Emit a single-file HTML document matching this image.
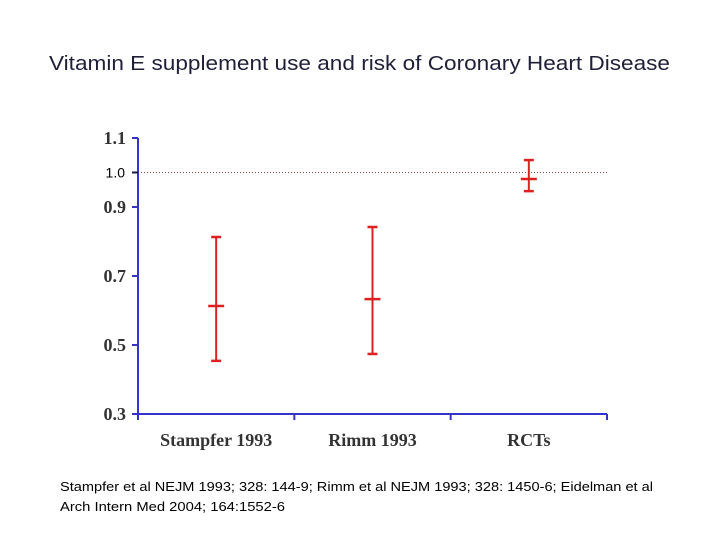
<!DOCTYPE html>
<html><head><meta charset="utf-8"><style>
body{margin:0;background:#fff;}
svg{display:block;}
</style></head><body>
<svg width="720" height="540" xmlns="http://www.w3.org/2000/svg">
<text x="49" y="70" textLength="621" lengthAdjust="spacingAndGlyphs" font-family="Liberation Sans, sans-serif" font-size="20" fill="#1f1f3a">Vitamin E supplement use and risk of Coronary Heart Disease</text>
<g id="plot"></g>
<text x="60" y="491" textLength="593" lengthAdjust="spacingAndGlyphs" font-family="Liberation Sans, sans-serif" font-size="13" fill="#000">Stampfer et al NEJM 1993; 328: 144-9;  Rimm et al NEJM 1993; 328: 1450-6;  Eidelman et al</text>
<text x="60" y="511" textLength="225" lengthAdjust="spacingAndGlyphs" font-family="Liberation Sans, sans-serif" font-size="13" fill="#000">Arch Intern Med 2004; 164:1552-6</text>
</svg>
<script>
const categories=["Stampfer 1993","Rimm 1993","RCTs"];
const estimates=[0.613,0.633,0.981];
const lowerCI=[0.454,0.474,0.946];
const upperCI=[0.813,0.842,1.036];
const yTicks=[0.3,0.5,0.7,0.9,1.1];
const yTickLabels=["0.3","0.5","0.7","0.9","1.1"];
const refValue=1.0;

const NS="http://www.w3.org/2000/svg";
const g=document.getElementById('plot');
const x0=138,x1=607,yMin=0.3,yMax=1.1,yTop=138,yBot=414;
function y(v){return yBot-(v-yMin)/(yMax-yMin)*(yBot-yTop);}
const band=(x1-x0)/categories.length;
function xc(i){return x0+band*(i+0.5);}
function mk(tag,attrs){const e=document.createElementNS(NS,tag);for(const k in attrs)e.setAttribute(k,attrs[k]);g.appendChild(e);return e;}

let e=mk('line',{x1:x0,y1:y(refValue),x2:x1,y2:y(refValue),stroke:'#8a4a4a','stroke-width':1,'stroke-dasharray':'1,2'});


e=mk('line',{x1:x0,y1:yTop,x2:x0,y2:yBot,stroke:'#3333cc','stroke-width':2});


e=mk('line',{x1:x0,y1:yBot,x2:x1,y2:yBot,stroke:'#3333cc','stroke-width':2});


yTicks.forEach((t,i)=>{
  let l=mk('line',{x1:x0-6,y1:y(t),x2:x0,y2:y(t),stroke:'#3333cc','stroke-width':2});
  
  
  let tx=mk('text',{x:x0-12,y:y(t)+6,'text-anchor':'end','font-family':'Liberation Serif, serif','font-size':18,'font-weight':'bold',fill:'#333'});
  tx.textContent=yTickLabels[i];
  
  
});
e=mk('line',{x1:x0-6,y1:y(refValue),x2:x0,y2:y(refValue),stroke:'#1a1a55','stroke-width':2});


e=mk('text',{x:x0-13,y:y(refValue)+5,'text-anchor':'end','font-family':'Liberation Sans, sans-serif','font-size':14,fill:'#000'});
e.textContent=refValue.toFixed(1);


for(let i=0;i<=categories.length;i++){
  let l=mk('line',{x1:x0+band*i,y1:yBot,x2:x0+band*i,y2:yBot+6,stroke:'#3333cc','stroke-width':2});
  
  
}
categories.forEach((c,i)=>{
  const cx=xc(i);
  let tx=mk('text',{x:cx,y:446,'text-anchor':'middle','font-family':'Liberation Serif, serif','font-size':18,'font-weight':'bold',fill:'#333'});
  tx.textContent=c;
  
  
  const col='#e02020';
  let v=mk('line',{x1:cx,y1:y(upperCI[i]),x2:cx,y2:y(lowerCI[i]),stroke:col,'stroke-width':2});
  
  
  let u=mk('line',{x1:cx-5,y1:y(upperCI[i]),x2:cx+5,y2:y(upperCI[i]),stroke:col,'stroke-width':2.5});
  
  
  let lo=mk('line',{x1:cx-5,y1:y(lowerCI[i]),x2:cx+5,y2:y(lowerCI[i]),stroke:col,'stroke-width':2.5});
  
  
  let m=mk('line',{x1:cx-8,y1:y(estimates[i]),x2:cx+8,y2:y(estimates[i]),stroke:col,'stroke-width':2.5});
  
  
});
</script>
</body></html>
